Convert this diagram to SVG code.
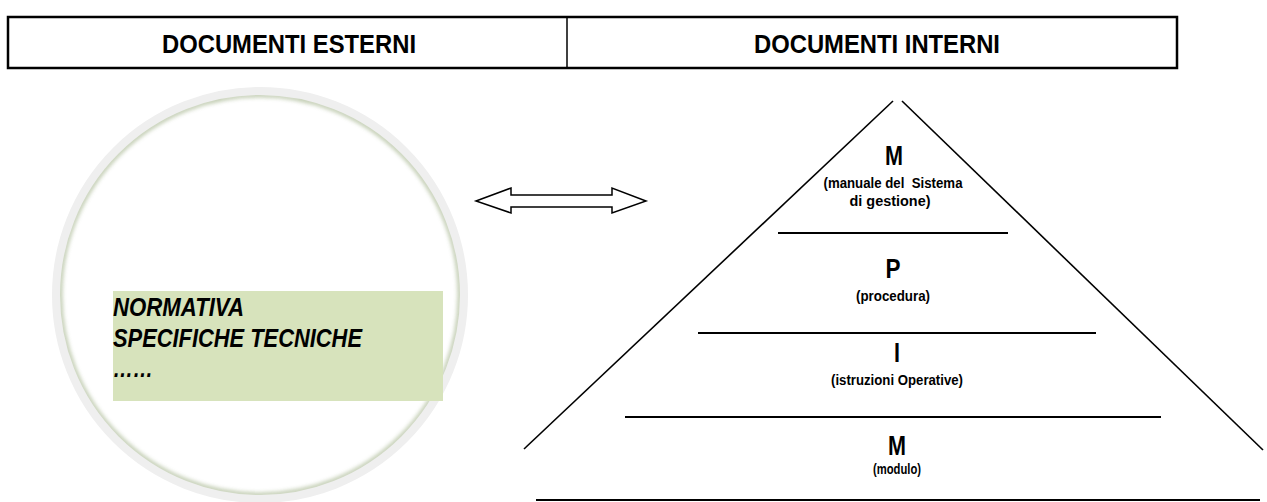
<svg xmlns="http://www.w3.org/2000/svg" width="1267" height="502" viewBox="0 0 1267 502">
<style>
.hdr{font-family:"Liberation Sans",Arial,sans-serif;font-weight:bold;font-size:26px;fill:#000}
.big{font-family:"Liberation Sans",Arial,sans-serif;font-weight:bold;font-size:27px;fill:#000;text-anchor:middle}
.sub{font-family:"Liberation Sans",Arial,sans-serif;font-weight:bold;font-size:14.5px;fill:#000;text-anchor:middle}
.ext{font-family:"Liberation Sans",Arial,sans-serif;font-weight:bold;font-style:italic;font-size:25px;fill:#000}
.ln{stroke:#000;stroke-width:2;fill:none}
.dg{stroke:#000;stroke-width:1.6;fill:none}
</style>
<defs>
<filter id="blur" x="-10%" y="-10%" width="120%" height="120%"><feGaussianBlur stdDeviation="2"/></filter>
</defs>
<rect width="1267" height="502" fill="#fff"/>
<g id="header">
<rect x="8" y="17" width="1169" height="51" fill="#fff" stroke="#000" stroke-width="2.5"/>
<line x1="567" y1="17" x2="567" y2="68" stroke="#000" stroke-width="1.5"/>
<text class="hdr" x="162" y="53" textLength="254" lengthAdjust="spacingAndGlyphs">DOCUMENTI ESTERNI</text>
<text class="hdr" x="754" y="53" textLength="246" lengthAdjust="spacingAndGlyphs">DOCUMENTI INTERNI</text>
</g>
<g id="external">
<circle cx="260" cy="295" r="200" fill="none" stroke="#a9b893" stroke-width="4" filter="url(#blur)" opacity="0.85"/>
<circle cx="260" cy="295" r="204" fill="none" stroke="#efefef" stroke-width="8"/>
<rect x="113" y="291" width="330" height="110" fill="#d7e3bc"/>
<text class="ext" x="113" y="316" textLength="131" lengthAdjust="spacingAndGlyphs">NORMATIVA</text>
<text class="ext" x="113" y="347" textLength="249" lengthAdjust="spacingAndGlyphs">SPECIFICHE TECNICHE</text>
<text class="ext" x="113" y="377" textLength="40" lengthAdjust="spacingAndGlyphs">……</text>
</g>
<g id="connectors">
<path d="M476,201 L511,188 L511,195 L612,195 L612,188 L646,201 L612,213 L612,207 L511,207 L511,213 Z" fill="#fff" stroke="#000" stroke-width="1.5" stroke-linejoin="miter"/>
</g>
<g id="pyramid">
<line class="dg" x1="893" y1="101" x2="524" y2="449"/>
<line class="dg" x1="902" y1="101" x2="1263" y2="450"/>
<line class="ln" x1="778" y1="233" x2="1008" y2="233"/>
<line class="ln" x1="698" y1="333" x2="1096" y2="333"/>
<line class="ln" x1="625" y1="417" x2="1161" y2="417"/>
<line class="ln" x1="536" y1="500" x2="1260" y2="500"/>
</g>
<g id="level-m">
<text class="big" x="894" y="165" textLength="18" lengthAdjust="spacingAndGlyphs">M</text>
<text class="sub" x="893" y="188" textLength="139" lengthAdjust="spacingAndGlyphs" xml:space="preserve">(manuale del  Sistema</text>
<text class="sub" x="890" y="206" textLength="81" lengthAdjust="spacingAndGlyphs">di gestione)</text>
</g>
<g id="level-p">
<text class="big" x="893" y="278" textLength="15" lengthAdjust="spacingAndGlyphs">P</text>
<text class="sub" x="893" y="301" textLength="74" lengthAdjust="spacingAndGlyphs">(procedura)</text>
</g>
<g id="level-i">
<text class="big" x="897" y="362" textLength="6" lengthAdjust="spacingAndGlyphs">I</text>
<text class="sub" x="897" y="385" textLength="132" lengthAdjust="spacingAndGlyphs">(istruzioni Operative)</text>
</g>
<g id="level-mod">
<text class="big" x="897" y="455" textLength="18" lengthAdjust="spacingAndGlyphs">M</text>
<text class="sub" x="897" y="474" textLength="48" lengthAdjust="spacingAndGlyphs">(modulo)</text>
</g>
</svg>
